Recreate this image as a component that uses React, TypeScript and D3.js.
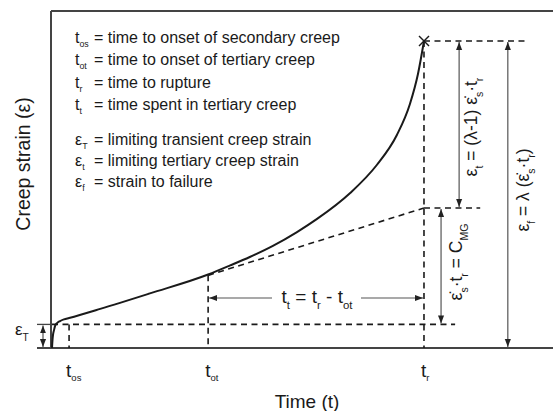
import React from "react";
import * as d3 from "d3";

const W = 553;
const H = 411;
const FONT = "'Liberation Sans', Arial, Helvetica, sans-serif";

// Creep curve, time (t) against creep strain (ε), arbitrary units
const curveTime = [0.2, 0.3, 0.4, 0.6, 0.8, 1.2, 1.8, 2.6, 3.6, 9.8, 19.7, 31.3, 35.7, 39.6, 44.2, 49.0, 53.0, 59.6, 64.9, 68.9, 71.5, 73.1, 74.3];
const curveStrain = [0, 2.4, 3.9, 5.3, 6.5, 7.4, 8.0, 8.5, 8.9, 11.6, 16.2, 21.8, 24.5, 27.0, 30.3, 34.4, 38.3, 46.0, 54.3, 63.2, 72.4, 81.3, 91.1];

// Characteristic times on the time axis
const markerSubs = ["os", "ot", "r"];
const markerTimes = [3.6, 31.3, 74.3];

// Characteristic strains
const epsT = 7; // limiting transient creep strain
const secondaryRate = 0.465; // minimum (secondary) creep rate
const epsF = 91.1; // strain to failure

// Definitions block
const legendSymbols = ["t", "t", "t", "t", "ε", "ε", "ε"];
const legendSubs = ["os", "ot", "r", "t", "T", "t", "f"];
const legendTexts = [
  "= time to onset of secondary creep",
  "= time to onset of tertiary creep",
  "= time to rupture",
  "= time spent in tertiary creep",
  "= limiting transient creep strain",
  "= limiting tertiary creep strain",
  "= strain to failure",
];

const x = d3.scaleLinear().domain([0, 100]).range([51, 553]);
const y = d3.scaleLinear().domain([0, 100]).range([348, 11]);

const INK = "#1a1a1a";
const AXIS = "#444";
const ARROW = "#555";
const DASH = "6,4.5";

type Part = { t: string; sub?: boolean };

// Renders a run of text with subscripts as tspans
function Rich({ parts, size, subScale = 0.6, subShift = 0.32 }: { parts: Part[]; size: number; subScale?: number; subShift?: number }) {
  let prevSub = false;
  return (
    <>
      {parts.map((p, i) => {
        let dy = 0;
        if (p.sub && !prevSub) dy = size * subShift;
        if (!p.sub && prevSub) dy = -size * subShift;
        prevSub = !!p.sub;
        return (
          <tspan key={i} dy={dy} fontSize={p.sub ? size * subScale : size}>
            {p.t}
          </tspan>
        );
      })}
    </>
  );
}

export default function App() {
  const line = d3
    .line<number>()
    .x((_, i) => x(curveTime[i]))
    .y((d) => y(d))
    .curve(d3.curveMonotoneX);

  const [tOs, tOt, tR] = markerTimes;
  const epsSecEnd = epsT + secondaryRate * tR;
  const epsAtTot = epsT + secondaryRate * tOt;

  const legendY = (i: number) => (i < 4 ? 43 + i * 22.3 : 145 + (i - 4) * 21);

  const xEpsArrow = x(81.3);
  const xCmgArrow = x(77.7);
  const xFailArrow = x(91.0);
  const yTt = 298;

  return (
    <svg
      width={W}
      height={H}
      viewBox={`0 0 ${W} ${H}`}
      style={{ position: "absolute", left: 0, top: 0, background: "#fff" }}
      fontFamily={FONT}
    >
      <defs>
        <marker
          id="head"
          viewBox="0 0 10 10"
          refX="10"
          refY="5"
          markerWidth="8"
          markerHeight="8"
          markerUnits="userSpaceOnUse"
          orient="auto-start-reverse"
        >
          <path d="M0,1.2 L10,5 L0,8.8 Z" fill="#222" />
        </marker>
      </defs>

      {/* frame and axes */}
      <line x1={x(0)} y1={y(100)} x2={W} y2={y(100)} stroke={AXIS} strokeWidth={2} />
      <line x1={x(0)} y1={y(100)} x2={x(0)} y2={y(0) + 1} stroke={AXIS} strokeWidth={2} />
      <line x1={37} y1={y(0)} x2={W} y2={y(0)} stroke={AXIS} strokeWidth={2} />

      {/* ε_T bracket */}
      <line x1={37} y1={y(epsT)} x2={x(0)} y2={y(epsT)} stroke={AXIS} strokeWidth={1.3} />
      <line
        x1={43}
        y1={y(epsT) + 1}
        x2={43}
        y2={y(0) - 1}
        stroke={ARROW}
        strokeWidth={1.2}
        markerStart="url(#head)"
        markerEnd="url(#head)"
      />
      <text x={15} y={y(epsT) + 11} fill={INK}>
        <Rich size={17} parts={[{ t: "ε" }, { t: "T", sub: true }]} />
      </text>

      {/* dashed guides */}
      <g stroke={INK} strokeWidth={1.6} strokeDasharray={DASH} fill="none">
        <line x1={x(0) + 1} y1={y(epsT)} x2={x(80.5)} y2={y(epsT)} />
        <line x1={x(tOs)} y1={y(epsT)} x2={x(tOs)} y2={y(0)} />
        <line x1={x(tOt)} y1={y(epsAtTot)} x2={x(tOt)} y2={y(0)} />
        <line x1={x(tR)} y1={y(epsF)} x2={x(tR)} y2={y(0)} />
        <line x1={x(tOt)} y1={y(epsAtTot)} x2={x(tR)} y2={y(epsSecEnd)} />
        <line x1={x(tR)} y1={y(epsSecEnd)} x2={x(85.5)} y2={y(epsSecEnd)} />
        <line x1={x(tR)} y1={y(epsF)} x2={x(95)} y2={y(epsF)} />
      </g>

      {/* creep curve */}
      <path d={line(curveStrain) || ""} fill="none" stroke={INK} strokeWidth={2} />

      {/* rupture mark */}
      <g stroke={INK} strokeWidth={1.4}>
        <line x1={x(tR) - 5} y1={y(epsF) - 5} x2={x(tR) + 5} y2={y(epsF) + 5} />
        <line x1={x(tR) - 5} y1={y(epsF) + 5} x2={x(tR) + 5} y2={y(epsF) - 5} />
      </g>

      {/* vertical dimension arrows */}
      <g stroke={ARROW} strokeWidth={1.2}>
        <line x1={xEpsArrow} y1={y(epsF) + 1} x2={xEpsArrow} y2={y(epsSecEnd) - 1} markerStart="url(#head)" markerEnd="url(#head)" />
        <line x1={xCmgArrow} y1={y(epsSecEnd) + 1} x2={xCmgArrow} y2={y(epsT) - 1} markerStart="url(#head)" markerEnd="url(#head)" />
        <line x1={xFailArrow} y1={y(epsF) + 1} x2={xFailArrow} y2={y(0) - 1} markerStart="url(#head)" markerEnd="url(#head)" />
      </g>

      {/* t_t arrow */}
      <g stroke={ARROW} strokeWidth={1.2}>
        <line x1={272} y1={yTt} x2={x(tOt) + 1} y2={yTt} markerEnd="url(#head)" />
        <line x1={361} y1={yTt} x2={x(tR) - 1} y2={yTt} markerEnd="url(#head)" />
      </g>
      <text x={317} y={yTt + 5} textAnchor="middle" fill={INK}>
        <Rich
          size={19}
          parts={[{ t: "t" }, { t: "t", sub: true }, { t: " = t" }, { t: "r", sub: true }, { t: " - t" }, { t: "ot", sub: true }]}
        />
      </text>

      {/* rotated dimension labels */}
      <text transform={`translate(${477},${127}) rotate(-90)`} textAnchor="middle" fill={INK}>
        <Rich
          size={17.5}
          parts={[
            { t: "ε" },
            { t: "t", sub: true },
            { t: " = (λ-1) ε\u0307" },
            { t: "s", sub: true },
            { t: "·t" },
            { t: "r", sub: true },
          ]}
        />
      </text>
      <text transform={`translate(${529},${190}) rotate(-90)`} textAnchor="middle" fill={INK}>
        <Rich
          size={17.5}
          parts={[
            { t: "ε" },
            { t: "f", sub: true },
            { t: " = λ (ε\u0307" },
            { t: "s", sub: true },
            { t: "·t" },
            { t: "r", sub: true },
            { t: ")" },
          ]}
        />
      </text>
      <text transform={`translate(${462},${262}) rotate(-90)`} textAnchor="middle" fill={INK}>
        <Rich
          size={17.5}
          parts={[
            { t: "ε\u0307" },
            { t: "s", sub: true },
            { t: "·t" },
            { t: "r", sub: true },
            { t: " = C" },
            { t: "MG", sub: true },
          ]}
        />
      </text>

      {/* time-axis markers */}
      {markerTimes.map((t, i) => (
        <text key={i} x={x(t) - 3} y={377} fill={INK}>
          <Rich size={19} subScale={0.5} subShift={0.2} parts={[{ t: "t" }, { t: markerSubs[i], sub: true }]} />
        </text>
      ))}

      {/* definitions */}
      {legendTexts.map((txt, i) => (
        <g key={i} fill={INK}>
          <text x={75} y={legendY(i)}>
            <Rich size={16} subScale={0.55} subShift={0.25} parts={[{ t: legendSymbols[i] }, { t: legendSubs[i], sub: true }]} />
          </text>
          <text x={94} y={legendY(i)} fontSize={16}>
            {txt}
          </text>
        </g>
      ))}

      {/* axis titles */}
      <text x={307} y={408} textAnchor="middle" fontSize={19} fill={INK}>
        Time (t)
      </text>
      <text transform={`translate(${30},${164}) rotate(-90)`} textAnchor="middle" fontSize={19.5} fill={INK}>
        Creep strain (ε)
      </text>
    </svg>
  );
}
